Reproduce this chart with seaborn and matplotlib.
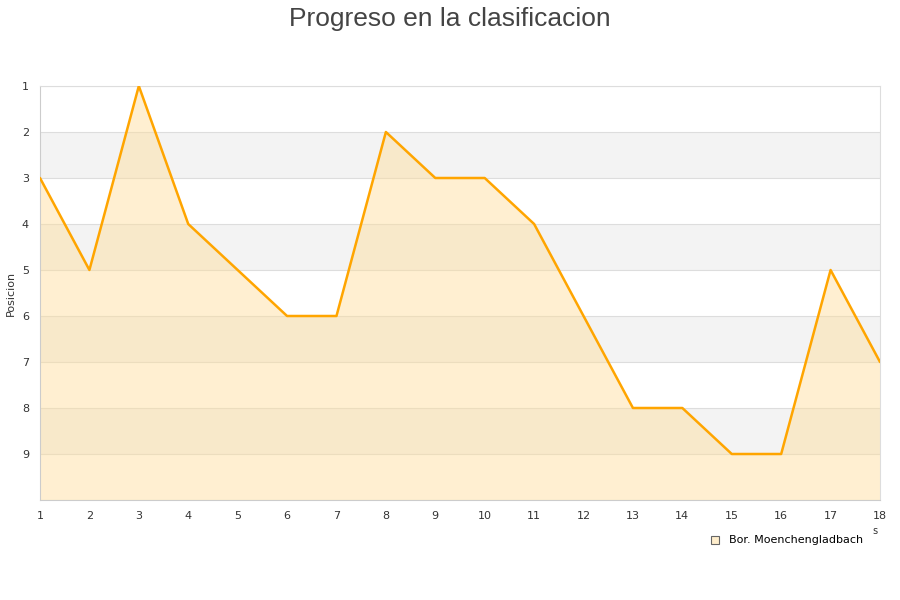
import pandas as pd
import numpy as np
import matplotlib
matplotlib.use("Agg")
import matplotlib.pyplot as plt
import seaborn as sns

# Data
jornadas = list(range(1, 19))
posiciones = [3, 5, 1, 4, 5, 6, 6, 2, 3, 3, 4, 6, 8, 8, 9, 9, 5, 7]
equipo = "Bor. Moenchengladbach"

df = pd.DataFrame({"Jornada": jornadas, "Posicion": posiciones})

sns.set_style("white")
plt.rcParams['font.family'] = ['DejaVu Sans']

fig = plt.figure(figsize=(9, 6), dpi=100)
ax = fig.add_axes([40 / 900, 100 / 600, 840 / 900, 414 / 600])

# alternating horizontal bands
for k in range(2, 10, 2):
    ax.axhspan(k, k + 1, color="#f3f3f3", zorder=0, lw=0)
for k in range(1, 11):
    ax.axhline(k, color="#dddddd", lw=0.8, zorder=1)

ax.fill_between(df["Jornada"], df["Posicion"], 10, color="#ffdd99", alpha=0.45,
                lw=0, zorder=2)
sns.lineplot(data=df, x="Jornada", y="Posicion", ax=ax, color="#ffa500", lw=1.8,
             zorder=3)

ax.set_xlim(1, 18)
ax.set_ylim(10, 1)
ax.set_xticks(jornadas)
ax.set_yticks(range(1, 10))
ax.tick_params(axis="both", labelsize=8, colors="#333333", length=0, pad=8)
ax.set_xlabel("")
ax.set_ylabel("")
fig.text(11 / 900, 1 - 293 / 600, "Posicion", fontsize=8, color="#333333",
         rotation=90, ha="center", va="center")
for s in ax.spines.values():
    s.set_color("#dddddd")
    s.set_linewidth(0.8)
ax.spines["left"].set_color("#cccccc")
ax.spines["bottom"].set_color("#cccccc")

fig.text(0.5, 0.988, "Progreso en la clasificacion", ha="center", va="top",
         fontsize=19, color="#444444", family=["Liberation Sans", "DejaVu Sans"])

# legend
fig.patches.append(plt.Rectangle((711 / 900, 1 - 544 / 600), 8 / 900, 8 / 600,
                                 transform=fig.transFigure, facecolor="#ffeecc",
                                 edgecolor="#666666", lw=0.8))
fig.text(729 / 900, 1 - 540 / 600, equipo, fontsize=8, color="black", va="center")
fig.text(875 / 900, 1 - 531 / 600, "s", fontsize=7, color="#333333", ha="center",
         va="center")

fig.savefig("out.png", dpi=100)
